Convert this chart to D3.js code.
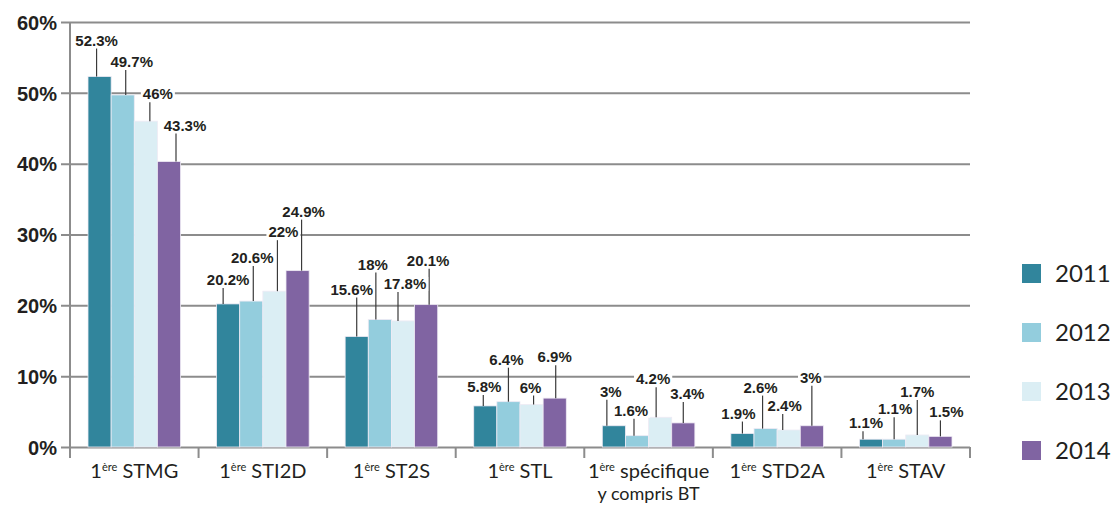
<!DOCTYPE html>
<html>
<head>
<meta charset="utf-8">
<script src="https://cdn.jsdelivr.net/npm/d3@7"></script>
<style>
  body { margin: 0; background: #fff; }
  .ylab text { font-family: "Liberation Sans", Arial, sans-serif; font-weight: bold; font-size: 20px; fill: #231f20; }
  .val { font-family: "Liberation Sans", Arial, sans-serif; font-weight: bold; font-size: 15px; fill: #231f20; }
  .cat, .leg { font-family: Lato, "Noto Sans", sans-serif; fill: #231f20; }
</style>
</head>
<body>
<div id="chart"></div>
<script>
// categories (1ère ...)
var categories = ["STMG", "STI2D", "ST2S", "STL", "spécifique", "STD2A", "STAV"];
var secondLine = ["", "", "", "", "y compris BT", "", ""];
var years = ["2011", "2012", "2013", "2014"];

// bar heights
var v2011 = [52.3, 20.2, 15.6, 5.8, 3.0, 1.9, 1.1];
var v2012 = [49.7, 20.6, 18.0, 6.4, 1.6, 2.6, 1.1];
var v2013 = [46.0, 22.0, 17.8, 6.0, 4.2, 2.4, 1.7];
var v2014 = [40.3, 24.9, 20.1, 6.9, 3.4, 3.0, 1.5];

// labels printed above the bars
var t2011 = ["52.3%", "20.2%", "15.6%", "5.8%", "3%", "1.9%", "1.1%"];
var t2012 = ["49.7%", "20.6%", "18%", "6.4%", "1.6%", "2.6%", "1.1%"];
var t2013 = ["46%", "22%", "17.8%", "6%", "4.2%", "2.4%", "1.7%"];
var t2014 = ["43.3%", "24.9%", "20.1%", "6.9%", "3.4%", "3%", "1.5%"];

var yTicks = [0, 10, 20, 30, 40, 50, 60];
var colors = ["#31859c", "#93cddd", "#dbeef4", "#8064a2"];

// label placement (px): height above bar, text shift, leader shift
var lift = [[31, 19, 42, 14, 29, 15, 11], [28, 38, 50, 37, 20, 36, 25],
            [22, 54, 32, 12, 33, 19, 38], [31, 54, 39, 36, 24, 43, 19]];
var textDx = [[-3, 0, -5, -1, -3, -4, -5], [9, 1, -7, -2, -6, -5, 1],
              [12, 9, 2, -1, -7, -4, 0], [16, 6, 2, 0, 4, -1, 6]];
var leadDx = [[-3, -5, 0, -2, -7, 0, -8], [3, 2, -4, 0, -3, -3, 0],
              [4, 3, -5, 2, -4, -6, 0], [7, 4, 3, 1, 0, 0, 0]];

var values = [v2011, v2012, v2013, v2014];
var texts = [t2011, t2012, t2013, t2014];

var W = 1115, H = 509;
var margin = { top: 22, left: 70 };
var width = 900, height = 425;

var svg = d3.select("#chart").append("svg")
    .attr("width", W).attr("height", H);
var g = svg.append("g")
    .attr("transform", "translate(" + margin.left + "," + margin.top + ")");

var x0 = d3.scaleBand().domain(categories).range([0, width]);
var x1 = d3.scaleBand().domain(years).range([18, x0.bandwidth() - 18]);
var y = d3.scaleLinear().domain([0, 60]).range([height, 0]);

// grid + y labels
var yAxis = g.append("g").attr("class", "ylab")
    .call(d3.axisLeft(y).tickValues(yTicks).tickFormat(function (d) { return d + "%"; })
        .tickSizeInner(-width).tickSizeOuter(0).tickPadding(13));
yAxis.select(".domain").remove();
yAxis.selectAll(".tick line")
    .attr("x1", -9).attr("x2", width)
    .attr("stroke", "#8c8c8c").attr("stroke-width", 2);
yAxis.selectAll(".tick text").attr("dy", "0.36em");

// bars
var rows = [];
years.forEach(function (yr, k) {
    categories.forEach(function (c, i) {
        rows.push({ c: c, yr: yr, k: k, i: i, v: values[k][i], t: texts[k][i] });
    });
});

g.append("g").selectAll("rect")
    .data(rows).enter().append("rect")
    .attr("x", function (d) { return x0(d.c) + x1(d.yr); })
    .attr("y", function (d) { return y(d.v); })
    .attr("width", x1.bandwidth())
    .attr("height", function (d) { return y(0) - y(d.v); })
    .attr("fill", function (d) { return colors[d.k]; })
    .attr("stroke", "#eeeaf4").attr("stroke-width", 0.8);

// leader lines
g.append("g").selectAll("line")
    .data(rows).enter().append("line")
    .attr("x1", function (d) { return x0(d.c) + x1(d.yr) + x1.bandwidth() / 2 + leadDx[d.k][d.i]; })
    .attr("x2", function (d) { return x0(d.c) + x1(d.yr) + x1.bandwidth() / 2 + leadDx[d.k][d.i]; })
    .attr("y1", function (d) { return y(d.v) - lift[d.k][d.i] + 3; })
    .attr("y2", function (d) { return y(d.v); })
    .attr("stroke", "#3a3a3a").attr("stroke-width", 1.2);

// value labels with white box
var lab = g.append("g").selectAll("g")
    .data(rows).enter().append("g");
lab.append("text").attr("class", "val")
    .attr("text-anchor", "middle")
    .attr("x", function (d) { return x0(d.c) + x1(d.yr) + x1.bandwidth() / 2 + textDx[d.k][d.i]; })
    .attr("y", function (d) { return y(d.v) - lift[d.k][d.i]; })
    .text(function (d) { return d.t; });
lab.each(function () {
    var node = d3.select(this).select("text").node();
    var b = node.getBBox();
    d3.select(this).insert("rect", "text")
        .attr("x", b.x - 2).attr("y", b.y + 2)
        .attr("width", b.width + 4).attr("height", b.height - 3)
        .attr("fill", "#fff");
});

// axes lines
g.append("line").attr("x1", 0).attr("x2", 0).attr("y1", 0).attr("y2", height + 11)
    .attr("stroke", "#8c8c8c").attr("stroke-width", 2);
var bounds = categories.map(function (c) { return x0(c); }).concat([width]);
g.append("g").selectAll("line").data(bounds.slice(1)).enter().append("line")
    .attr("x1", function (d) { return d; }).attr("x2", function (d) { return d; })
    .attr("y1", height).attr("y2", height + 11)
    .attr("stroke", "#8c8c8c").attr("stroke-width", 2);

// category labels
var cat = g.append("g").selectAll("text")
    .data(categories).enter().append("text")
    .attr("class", "cat")
    .attr("text-anchor", "middle")
    .attr("x", function (d) { return x0(d) + x0.bandwidth() / 2; })
    .attr("y", height + 31)
    .style("font-size", "20px");
cat.append("tspan").text("1");
cat.append("tspan").attr("dy", -7).style("font-size", "11px").text("ère");
cat.append("tspan").attr("dy", 7).text(function (d) { return "\u00a0" + d; });
g.append("g").selectAll("text")
    .data(categories.filter(function (d, i) { return secondLine[i]; }))
    .enter().append("text")
    .attr("class", "cat")
    .attr("text-anchor", "middle")
    .attr("x", function (d) { return x0(d) + x0.bandwidth() / 2; })
    .attr("y", height + 53)
    .style("font-size", "18px")
    .text(function (d) { return secondLine[categories.indexOf(d)]; });

// legend
var leg = svg.append("g").selectAll("g")
    .data(years).enter().append("g")
    .attr("transform", function (d, i) { return "translate(1022," + (264 + i * 59) + ")"; });
leg.append("rect").attr("width", 19).attr("height", 19)
    .attr("fill", function (d, i) { return colors[i]; });
leg.append("text").attr("class", "leg")
    .attr("x", 33).attr("y", 18)
    .style("font-size", "24px")
    .text(function (d) { return d; });
</script>
</body>
</html>
